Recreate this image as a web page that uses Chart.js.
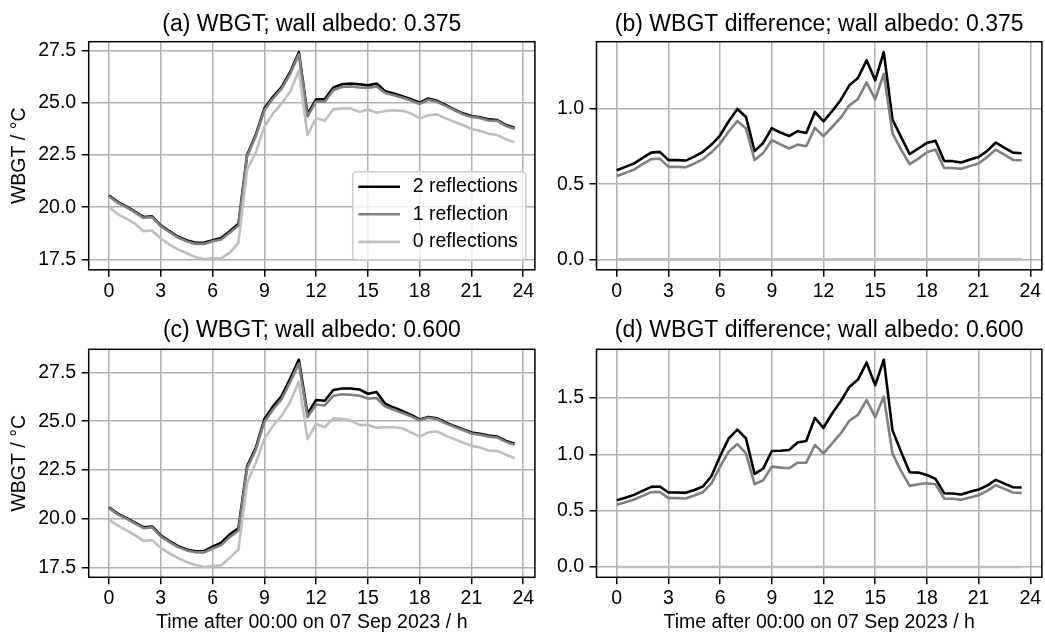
<!DOCTYPE html>
<html>
<head>
<meta charset="utf-8">
<script src="https://cdn.jsdelivr.net/npm/chart.js@4.4.1/dist/chart.umd.min.js"></script>
<style>
  body { margin: 0; background: #fff; }
  #fig { position: relative; width: 1045px; height: 634px; background: #fff; }
  #fig canvas { position: absolute; }
</style>
</head>
<body>
<div id="fig">
  <canvas id="pa" width="545" height="305" style="left:0;top:0"></canvas>
  <canvas id="pb" width="505" height="305" style="left:540px;top:0"></canvas>
  <canvas id="pc" width="545" height="329" style="left:0;top:305px"></canvas>
  <canvas id="pd" width="505" height="329" style="left:540px;top:305px"></canvas>
</div>
<script>
// half-hourly output, hours after 00:00 on 07 Sep 2023
var hours = [0, 0.5, 1, 1.5, 2, 2.5, 3, 3.5, 4, 4.5, 5, 5.5, 6, 6.5, 7, 7.5, 8, 8.5, 9, 9.5, 10, 10.5, 11, 11.5,
             12, 12.5, 13, 13.5, 14, 14.5, 15, 15.5, 16, 16.5, 17, 17.5, 18, 18.5, 19, 19.5, 20, 20.5, 21, 21.5, 22, 22.5, 23, 23.5];
var xTicks = [0, 3, 6, 9, 12, 15, 18, 21, 24];
var wbgtTicks = [17.5, 20, 22.5, 25, 27.5];
var diffTicksB = [0, 0.5, 1];
var diffTicksD = [0, 0.5, 1, 1.5];

// (a) WBGT, wall albedo 0.375
var wbgtA2 = [20.56, 20.25, 20.04, 19.79, 19.53, 19.56, 19.13, 18.85, 18.58, 18.42, 18.29, 18.29, 18.42, 18.52, 18.85, 19.2,
              22.5, 23.45, 24.72, 25.28, 25.75, 26.47, 27.42, 24.45, 25.16, 25.16, 25.73, 25.88, 25.92, 25.88, 25.83, 25.92,
              25.55, 25.44, 25.31, 25.17, 25.0, 25.2, 25.09, 24.89, 24.68, 24.49, 24.36, 24.3, 24.2, 24.17, 23.93, 23.8];
var wbgtA1 = [20.52, 20.21, 20.0, 19.75, 19.49, 19.52, 19.09, 18.81, 18.54, 18.37, 18.24, 18.24, 18.37, 18.45, 18.77, 19.12,
              22.44, 23.38, 24.64, 25.2, 25.67, 26.38, 27.33, 24.34, 25.06, 25.05, 25.61, 25.75, 25.78, 25.73, 25.7, 25.78,
              25.46, 25.36, 25.24, 25.1, 24.94, 25.14, 25.04, 24.85, 24.64, 24.45, 24.32, 24.26, 24.15, 24.13, 23.88, 23.75];
var wbgtA0 = [19.99, 19.67, 19.45, 19.21, 18.85, 18.88, 18.5, 18.21, 17.98, 17.79, 17.61, 17.5, 17.55, 17.55, 17.82, 18.29,
              21.79, 22.61, 23.85, 24.48, 24.96, 25.52, 26.55, 23.45, 24.25, 24.14, 24.69, 24.72, 24.72, 24.56, 24.67, 24.52,
              24.6, 24.64, 24.61, 24.48, 24.25, 24.4, 24.44, 24.25, 24.09, 23.93, 23.74, 23.65, 23.51, 23.45, 23.25, 23.1];

// (b) WBGT difference, wall albedo 0.375
var diffB2 = [0.593, 0.615, 0.637, 0.675, 0.71, 0.715, 0.66, 0.66, 0.657, 0.683, 0.715, 0.763, 0.825, 0.918, 1.0, 0.947,
              0.72, 0.774, 0.872, 0.843, 0.82, 0.852, 0.84, 0.98, 0.918, 0.985, 1.06, 1.157, 1.206, 1.323, 1.19, 1.378,
              0.93, 0.814, 0.7, 0.737, 0.774, 0.788, 0.655, 0.653, 0.644, 0.664, 0.681, 0.721, 0.777, 0.741, 0.71, 0.706];
var diffB1 = [0.555, 0.575, 0.597, 0.633, 0.666, 0.67, 0.615, 0.615, 0.613, 0.637, 0.666, 0.712, 0.77, 0.85, 0.92, 0.87,
              0.66, 0.708, 0.792, 0.765, 0.737, 0.763, 0.752, 0.874, 0.819, 0.88, 0.942, 1.024, 1.066, 1.177, 1.064, 1.234,
              0.84, 0.73, 0.633, 0.67, 0.712, 0.73, 0.608, 0.608, 0.602, 0.62, 0.637, 0.681, 0.73, 0.697, 0.661, 0.659];

// (c) WBGT, wall albedo 0.600
var wbgtC2 = [20.58, 20.26, 20.04, 19.8, 19.56, 19.6, 19.14, 18.85, 18.59, 18.42, 18.32, 18.33, 18.56, 18.76, 19.19, 19.51,
              22.68, 23.62, 25.1, 25.75, 26.29, 27.19, 28.16, 25.37, 26.09, 26.05, 26.6, 26.68, 26.68, 26.63, 26.41, 26.5,
              25.9, 25.7, 25.52, 25.32, 25.09, 25.22, 25.15, 24.94, 24.75, 24.59, 24.42, 24.35, 24.26, 24.21, 23.99, 23.84];
var wbgtC1 = [20.54, 20.22, 20.0, 19.76, 19.51, 19.55, 19.09, 18.8, 18.54, 18.37, 18.27, 18.27, 18.47, 18.64, 19.06, 19.38,
              22.59, 23.52, 24.96, 25.6, 26.13, 27.01, 27.97, 25.2, 25.86, 25.81, 26.31, 26.38, 26.36, 26.31, 26.16, 26.19,
              25.75, 25.59, 25.42, 25.25, 25.05, 25.18, 25.1, 24.89, 24.71, 24.55, 24.37, 24.3, 24.21, 24.16, 23.94, 23.79];
var wbgtC0 = [19.95, 19.65, 19.41, 19.15, 18.86, 18.9, 18.5, 18.22, 17.98, 17.77, 17.62, 17.52, 17.57, 17.6, 17.99, 18.42,
              21.83, 22.85, 24.08, 24.76, 25.27, 26.0, 27.02, 24.08, 24.86, 24.69, 25.15, 25.12, 25.03, 24.81, 24.81, 24.67,
              24.69, 24.69, 24.64, 24.43, 24.21, 24.43, 24.47, 24.26, 24.08, 23.91, 23.74, 23.65, 23.5, 23.48, 23.28, 23.1];

// (d) WBGT difference, wall albedo 0.600
var diffD2 = [0.593, 0.614, 0.64, 0.676, 0.711, 0.714, 0.661, 0.661, 0.658, 0.684, 0.714, 0.808, 0.985, 1.142, 1.22, 1.142,
              0.826, 0.873, 1.03, 1.032, 1.038, 1.106, 1.118, 1.324, 1.236, 1.363, 1.472, 1.599, 1.664, 1.814, 1.614, 1.841,
              1.215, 1.024, 0.841, 0.838, 0.817, 0.782, 0.655, 0.652, 0.643, 0.667, 0.687, 0.723, 0.773, 0.74, 0.708, 0.705];
var diffD1 = [0.552, 0.575, 0.599, 0.631, 0.664, 0.667, 0.611, 0.611, 0.608, 0.634, 0.664, 0.743, 0.891, 1.024, 1.091, 1.009,
              0.735, 0.77, 0.891, 0.882, 0.876, 0.926, 0.926, 1.083, 1.009, 1.097, 1.186, 1.298, 1.351, 1.481, 1.33, 1.513,
              1.009, 0.853, 0.72, 0.735, 0.743, 0.735, 0.608, 0.605, 0.596, 0.617, 0.637, 0.676, 0.726, 0.693, 0.661, 0.658];

// 0 reflections minus itself
var diffZero = [0, 0, 0, 0, 0, 0, 0, 0, 0, 0, 0, 0, 0, 0, 0, 0, 0, 0, 0, 0, 0, 0, 0, 0,
                0, 0, 0, 0, 0, 0, 0, 0, 0, 0, 0, 0, 0, 0, 0, 0, 0, 0, 0, 0, 0, 0, 0, 0];

var seriesLabels = ["2 reflections", "1 reflection", "0 reflections"];
var seriesColors = ["#000000", "#808080", "#bfbfbf"];

Chart.defaults.font.family = "'Liberation Sans', Arial, sans-serif";
Chart.defaults.color = "#000";

function series(i, values) {
    return {
        label: seriesLabels[i],
        data: hours.map(function(h, k) { return {x: h, y: values[k]}; }),
        borderColor: seriesColors[i],
        borderWidth: 2.6,
        borderJoinStyle: "round",
        pointRadius: 0,
        tension: 0,
        fill: false,
        order: 3 - i   // later series drawn on top, like the original plot order
    };
}

// black box around the axes (all four spines)
var framePlugin = {
    id: "frame",
    afterDatasetsDraw: function(chart) {
        var a = chart.chartArea, ctx = chart.ctx;
        ctx.save();
        ctx.strokeStyle = "#000";
        ctx.lineWidth = 1.5;
        ctx.strokeRect(a.left, a.top, a.right - a.left, a.bottom - a.top);
        ctx.restore();
    }
};

// legend box in the lower right of the axes
var boxLegend = {
    id: "boxLegend",
    afterDraw: function(chart, args, opts) {
        if (!opts.show) return;
        var a = chart.chartArea, ctx = chart.ctx;
        var w = 173, h = 88.3;
        var x0 = a.right - 9.2 - w, y0 = a.bottom - 9.8 - h;
        ctx.save();
        ctx.beginPath();
        ctx.roundRect(x0, y0, w, h, 4);
        ctx.fillStyle = "rgba(255,255,255,0.8)";
        ctx.fill();
        ctx.strokeStyle = "#cccccc";
        ctx.lineWidth = 1.5;
        ctx.stroke();
        ctx.font = "19.5px 'Liberation Sans', Arial, sans-serif";
        ctx.textBaseline = "middle";
        ctx.textAlign = "left";
        chart.data.datasets.forEach(function(ds, i) {
            var y = y0 + 15 + i * 27.6;
            ctx.beginPath();
            ctx.moveTo(x0 + 5.6, y);
            ctx.lineTo(x0 + 47.3, y);
            ctx.strokeStyle = ds.borderColor;
            ctx.lineWidth = ds.borderWidth;
            ctx.stroke();
            ctx.fillStyle = "#000";
            ctx.fillText(ds.label, x0 + 60, y);
        });
        ctx.restore();
    }
};

function makePanel(id, p) {
    var ctx = document.getElementById(id).getContext("2d");
    return new Chart(ctx, {
        type: "line",
        data: {datasets: p.datasets},
        plugins: [framePlugin, boxLegend],
        options: {
            responsive: false,
            animation: false,
            devicePixelRatio: 1,
            layout: {padding: {left: 0, right: p.padRight, top: 0, bottom: 0}},
            plugins: {
                legend: {display: false},
                tooltip: {enabled: false},
                title: {
                    display: true,
                    text: p.title,
                    fullSize: false,
                    font: {size: 23, weight: "normal"},
                    padding: {top: p.titleTop, bottom: p.titleBottom}
                },
                boxLegend: {show: !!p.legend}
            },
            scales: {
                x: {
                    type: "linear",
                    min: -1.175,
                    max: 24.675,
                    afterBuildTicks: function(scale) {
                        scale.ticks = xTicks.map(function(v) { return {value: v}; });
                    },
                    afterFit: function(scale) { scale.height = p.xHeight; },
                    ticks: {
                        font: {size: 19.5},
                        padding: 3,
                        maxRotation: 0,
                        callback: function(v) { return String(v); }
                    },
                    grid: {color: "#b0b0b0", lineWidth: 1.5, tickColor: "#000", tickWidth: 1.5, tickLength: 7},
                    border: {display: false},
                    title: {
                        display: !!p.xTitle,
                        text: "Time after 00:00 on 07 Sep 2023 / h",
                        font: {size: 19.5},
                        padding: {top: 0, bottom: 0}
                    }
                },
                y: {
                    type: "linear",
                    min: p.yMin,
                    max: p.yMax,
                    afterBuildTicks: function(scale) {
                        scale.ticks = p.yTicks.map(function(v) { return {value: v}; });
                    },
                    afterFit: function(scale) { scale.width = p.yWidth; },
                    ticks: {
                        font: {size: 19.5},
                        padding: 5.5,
                        callback: function(v) { return v.toFixed(1); }
                    },
                    grid: {color: "#b0b0b0", lineWidth: 1.5, tickColor: "#000", tickWidth: 1.5, tickLength: 7},
                    border: {display: false},
                    title: {
                        display: !!p.yTitle,
                        text: "WBGT / °C",
                        font: {size: 19.5},
                        padding: {top: 7.9, bottom: 0}
                    }
                }
            }
        }
    });
}

makePanel("pa", {
    title: "(a) WBGT; wall albedo: 0.375",
    datasets: [series(0, wbgtA2), series(1, wbgtA1), series(2, wbgtA0)],
    yMin: 17.0, yMax: 27.92, yTicks: wbgtTicks,
    yTitle: true, yWidth: 88.7, padRight: 10.1,
    xHeight: 35.2, titleTop: 10.5, titleBottom: 3.6,
    legend: true
});
makePanel("pb", {
    title: "(b) WBGT difference; wall albedo: 0.375",
    datasets: [series(0, diffB2), series(1, diffB1), series(2, diffZero)],
    yMin: -0.069, yMax: 1.447, yTicks: diffTicksB,
    yWidth: 56.5, padRight: 3.1,
    xHeight: 35.2, titleTop: 10.5, titleBottom: 3.6
});
makePanel("pc", {
    title: "(c) WBGT; wall albedo: 0.600",
    datasets: [series(0, wbgtC2), series(1, wbgtC1), series(2, wbgtC0)],
    yMin: 16.99, yMax: 28.69, yTicks: wbgtTicks,
    yTitle: true, yWidth: 88.7, padRight: 10.1,
    xHeight: 56.7, titleTop: 11.5, titleBottom: 5.2,
    xTitle: true
});
makePanel("pd", {
    title: "(d) WBGT difference; wall albedo: 0.600",
    datasets: [series(0, diffD2), series(1, diffD1), series(2, diffZero)],
    yMin: -0.092, yMax: 1.933, yTicks: diffTicksD,
    yWidth: 56.5, padRight: 3.1,
    xHeight: 56.7, titleTop: 11.5, titleBottom: 5.2,
    xTitle: true
});
</script>
</body>
</html>
